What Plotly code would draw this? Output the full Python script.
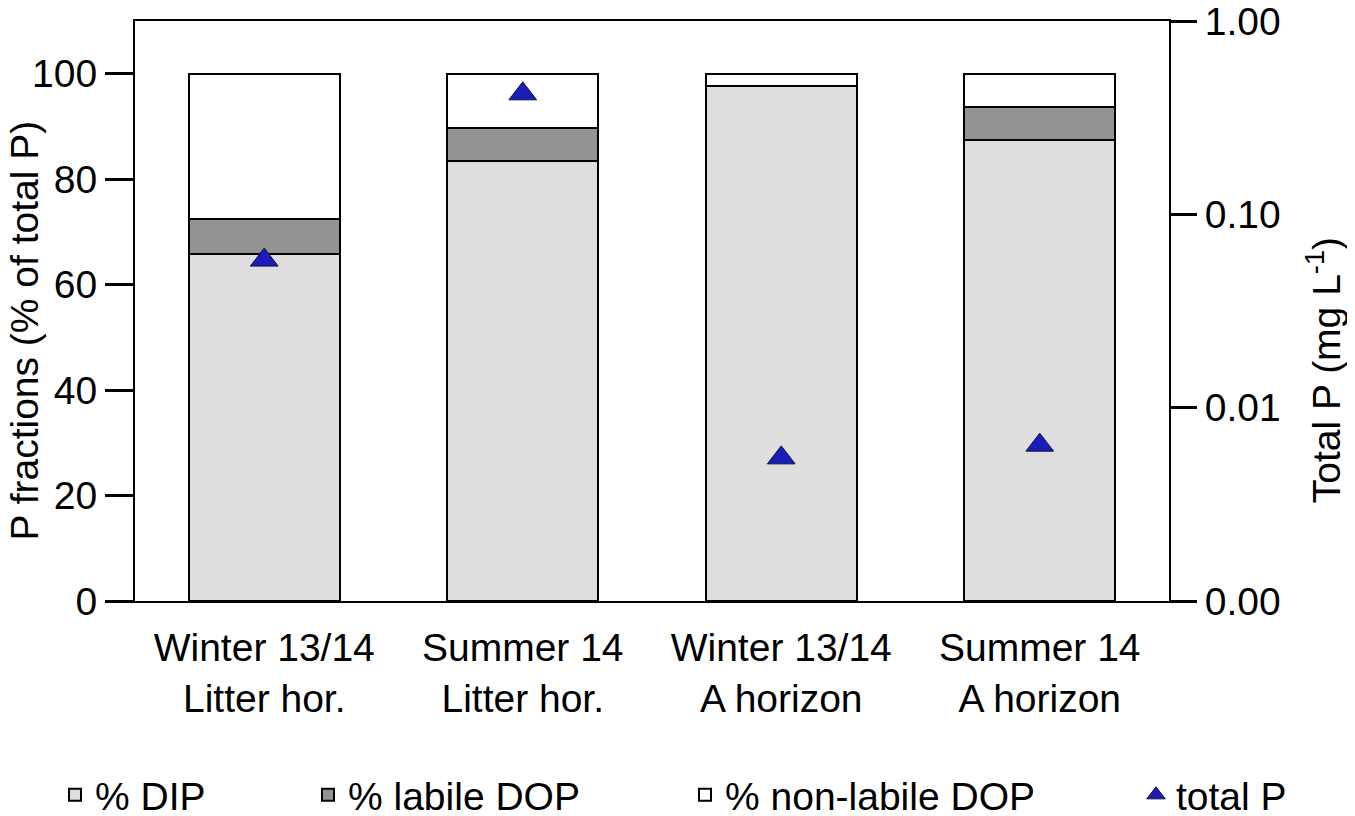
import plotly.graph_objects as go

# data
categories = ["Winter 13/14<br>Litter hor.", "Summer 14<br>Litter hor.",
              "Winter 13/14<br>A horizon", "Summer 14<br>A horizon"]
dip = [65.8, 83.5, 97.6, 87.5]            # % DIP
labile_dop = [6.7, 6.3, 0.0, 6.1]          # % labile DOP
nonlabile_dop = [27.5, 10.2, 2.4, 6.4]     # % non-labile DOP
total_p = [0.058, 0.42, 0.0055, 0.0064]    # mg L-1, log axis

right_tickvals = [0.001, 0.01, 0.1, 1]
right_ticktext = ["0.00", "0.01", "0.10", "1.00"]

FONT = "Arial, Liberation Sans, sans-serif"
FS = 39
W, H = 1347, 808   # page adds 8px body margin

fig = go.Figure()

####################################################################
# stacked bars
####################################################################
fig.add_trace(go.Bar(x=categories, y=dip, name="% DIP", legend="legend",
                     marker=dict(color="#dedede", line=dict(color="black", width=2))))
fig.add_trace(go.Bar(x=categories, y=labile_dop, name="% labile DOP", legend="legend2",
                     marker=dict(color="#939393", line=dict(color="black", width=2))))
fig.add_trace(go.Bar(x=categories, y=nonlabile_dop, name="% non-labile DOP", legend="legend3",
                     marker=dict(color="white", line=dict(color="black", width=2))))

####################################################################
# total P triangles on log axis
####################################################################
fig.add_trace(go.Scatter(x=categories, y=total_p, name="total P", yaxis="y2",
                         legend="legend4", mode="markers",
                         marker=dict(symbol="triangle-up", size=24, color="#1c1cb8",
                                     line=dict(color="#101040", width=1))))


def legend_at(px):
    # one legend box per entry, placed along the bottom
    return dict(orientation="h", xref="container", yref="container",
                x=px / W, xanchor="left", y=0.026, yanchor="middle",
                font=dict(size=FS), bgcolor="rgba(0,0,0,0)")


fig.update_layout(
    width=W, height=H,
    showlegend=True,
    barmode="stack", bargap=0.416,
    plot_bgcolor="white", paper_bgcolor="white",
    font=dict(family=FONT, size=FS, color="black"),
    margin=dict(l=127, r=186, t=13, b=215, autoexpand=False),
    xaxis=dict(showline=True, linecolor="black", linewidth=2, mirror=True,
               ticks="", showgrid=False, ticklabelstandoff=11,
               tickfont=dict(size=FS)),
    yaxis=dict(range=[0, 110], tickvals=[0, 20, 40, 60, 80, 100],
               ticks="outside", ticklen=28, tickwidth=3, tickcolor="black",
               showline=True, linecolor="black", linewidth=2,
               showgrid=False, zeroline=False, tickfont=dict(size=FS)),
    yaxis2=dict(type="log", range=[-3, 0], overlaying="y", side="right",
                tickvals=right_tickvals, ticktext=right_ticktext,
                ticklabeloverflow="allow",
                ticks="outside", ticklen=26, tickwidth=3, tickcolor="black",
                showline=True, linecolor="black", linewidth=2,
                showgrid=False, zeroline=False, tickfont=dict(size=FS)),
    legend=legend_at(47),
    legend2=legend_at(300),
    legend3=legend_at(677),
    legend4=legend_at(1128),
    annotations=[
        dict(text="P fractions (% of total P)", textangle=-90, showarrow=False,
             xref="paper", yref="paper", x=-0.107, y=0.467,
             xanchor="center", yanchor="middle", font=dict(size=FS)),
        dict(text="Total P (mg L<sup>-1</sup>)", textangle=-90, showarrow=False,
             xref="paper", yref="paper", x=1.149, y=0.398,
             xanchor="center", yanchor="middle", font=dict(size=FS)),
    ],
)

fig.write_html("out.html")
